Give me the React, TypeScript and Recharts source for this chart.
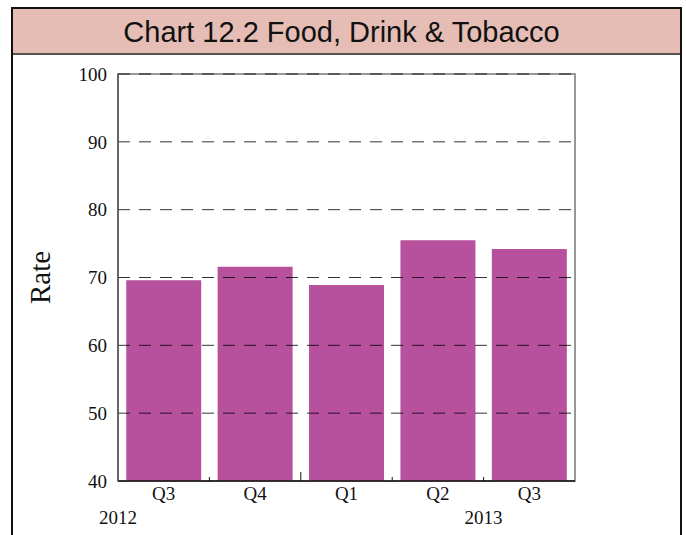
import { BarChart, Bar, XAxis, YAxis, ReferenceLine, ReferenceArea } from 'recharts';

const quarters = ['Q3', 'Q4', 'Q1', 'Q2', 'Q3'];
const years = ['2012', '', '', '2013', ''];
const rates = [69.6, 71.6, 68.9, 75.5, 74.2];
const yTicks = [40, 50, 60, 70, 80, 90, 100];
const gridLines = [50, 60, 70, 80, 90, 100];

const data = quarters.map((q, i) => ({ idx: i, quarter: q, rate: rates[i] }));

const serif = '"Liberation Serif", "Times New Roman", serif';

function QuarterTick({ x, y, payload }: any) {
   const i = payload.value as number;
   const year = years[i];
   const half = 45.7;
   const shift = i === 0 ? -half : half;
   // small divider ticks between categories, longer one where the year changes
   const len = i === 1 ? 9 : 4;
   return (
      <g>
         {i < quarters.length - 1 && <line x1={x + half} x2={x + half} y1={y} y2={y - len} stroke="#111" strokeWidth={1} />}
         <text x={x} y={y + 19} textAnchor="middle" fontFamily={serif} fontSize={19} fill="#111">
            {quarters[i]}
         </text>
         {year && (
            <text x={x + shift} y={y + 43} textAnchor="middle" fontFamily={serif} fontSize={19} fill="#111">
               {year}
            </text>
         )}
      </g>
   );
}

function RateLabel({ viewBox }: any) {
   const cy = viewBox.y + viewBox.height / 2;
   return (
      <text
         x={40}
         y={cy}
         transform={`rotate(-90 40 ${cy})`}
         textAnchor="middle"
         dominantBaseline="central"
         fontFamily={serif}
         fontSize={29}
         fill="#111"
      >
         Rate
      </text>
   );
}

export default function App() {
   return (
      <div style={{ position: 'absolute', left: 0, top: 0, width: 686, height: 535, overflow: 'hidden', background: '#fff' }}>
         <div
            style={{
               position: 'absolute',
               left: 11,
               top: 7,
               width: 667,
               height: 560,
               border: '2px solid #111',
               borderBottom: 'none',
            }}
         />
         <div
            style={{
               position: 'absolute',
               left: 13,
               top: 9,
               width: 657,
               paddingRight: 10,
               height: 44,
               background: '#e5bdb5',
               borderBottom: '2px solid #555',
               textAlign: 'center',
               lineHeight: '47px',
               fontFamily: '"Liberation Sans", Arial, sans-serif',
               fontSize: 29,
               color: '#111',
            }}
         >
            Chart 12.2 Food, Drink &amp; Tobacco
         </div>
         <div style={{ position: 'absolute', left: 0, top: 0 }}>
            <BarChart width={686} height={535} data={data} margin={{ top: 74, right: 111, bottom: 14, left: 58 }} barCategoryGap="9%">
               <ReferenceArea y1={40} y2={100} fill="none" stroke="#777" strokeWidth={1.5} ifOverflow="visible" />
               <XAxis
                  dataKey="idx"
                  height={40}
                  axisLine={{ stroke: '#111', strokeWidth: 1.5 }}
                  tickLine={false}
                  tickSize={0}
                  tickMargin={0}
                  interval={0}
                  tick={<QuarterTick />}
               />
               <YAxis
                  domain={[40, 100]}
                  ticks={yTicks}
                  width={60}
                  allowDataOverflow
                  axisLine={{ stroke: '#555', strokeWidth: 1.5 }}
                  tickLine={false}
                  tickMargin={5}
                  tick={{ fontFamily: serif, fontSize: 19, fill: '#111' }}
                  label={<RateLabel />}
               />
               <Bar dataKey="rate" fill="#b8519d" isAnimationActive={false} />
               {gridLines.map((v) => (
                  <ReferenceLine key={v} y={v} stroke="#000" strokeOpacity={0.8} strokeDasharray="12 9" />
               ))}
            </BarChart>
         </div>
      </div>
   );
}
